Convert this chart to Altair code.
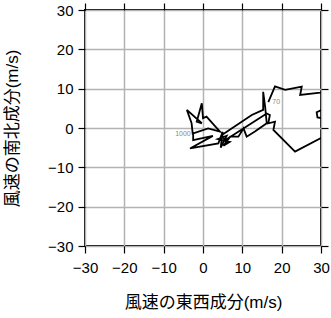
import altair as alt
import pandas as pd

# wind components along the hodograph (1000 hPa -> 70 hPa)
u = [-2.6, -2.9, -4.1, -0.3, -1.6, -0.3, 0.0, 0.9, 4.3, 1.3, -2.5, -2.5, 2.5, -3.3,
     3.9, 5.0, 4.5, 6.0, 3.8, 6.8, 5.2, 6.9, 9.0, 10.3, 11.1, 13.2, 16.2, 15.8, 15.3,
     15.3, 12.4, 4.8, 5.6, 16.2, 17.0, 16.6, 18.3, 17.9, 23.4, 32.0, 32.0, 29.1, 28.9,
     32.0, 32.0, 29.8, 24.7, 25.1, 20.9, 18.3, 16.6]
v = [-1.6, 1.2, 4.6, 1.2, 1.6, 6.3, 2.5, 2.9, -0.9, -0.1, -1.4, -3.1, -2.0, -5.2,
     -3.9, -1.0, -5.0, -2.0, -2.8, -3.5, -4.5, -2.2, -2.2, -0.1, -2.2, -0.9, 1.2, 5.4, 9.2,
     4.6, 3.3, -1.8, -3.1, 3.7, 3.3, 1.2, 1.6, -0.5, -6.0, -1.5, 2.2, 2.7, 4.0,
     5.5, 9.6, 9.0, 8.4, 10.5, 9.7, 10.6, 6.6]
start_label = "1000"
end_label = "70"
ticks = [-30, -20, -10, 0, 10, 20, 30]

df = pd.DataFrame({"i": list(range(len(u))), "u": u, "v": v})
lab = pd.DataFrame({"u": [u[0], u[-1]], "v": [v[0], v[-1]],
                    "t": [start_label, end_label], "side": ["start", "end"]})

FONT = "Liberation Sans, Arial, Noto Sans CJK JP"
xs = alt.Scale(domain=[-30, 30], nice=False, zero=False)
ys = alt.Scale(domain=[-30, 30], nice=False, zero=False)

common = dict(values=ticks, tickColor="black", tickSize=7, tickWidth=1.2, domain=False,
              labelFont=FONT, labelFontSize=15, labelColor="black", labelFlush=False,
              titleFont=FONT, titleFontSize=17, titleFontWeight="normal", titleColor="black",
              grid=True, gridColor="#b3b3b3", gridWidth=1.5)

line = alt.Chart(df).mark_line(color="black", strokeWidth=1.8, clip=True).encode(
    x=alt.X("u:Q", scale=xs, axis=alt.Axis(
        title="風速の東西成分(m/s)", labelPadding=7,
        titleX=118, titleY=56, titleBaseline="middle", titleAlign="center", **common)),
    y=alt.Y("v:Q", scale=ys, axis=alt.Axis(
        title="風速の南北成分(m/s)", labelPadding=5,
        titleX=-73, titleY=118, titleAngle=270, titleBaseline="middle",
        titleAlign="center", **common)),
    order="i:Q",
)

noax = dict(values=ticks, tickColor="black", tickSize=7, tickWidth=1.2, domain=False,
            labels=False, title=None, grid=False)

txt_start = alt.Chart(lab).transform_filter(alt.datum.side == "start").mark_text(
    align="right", baseline="middle", dx=-2, fontSize=7, color="#888888", font=FONT
).encode(
    x=alt.X("u:Q", scale=xs, axis=alt.Axis(orient="top", **noax)),
    y=alt.Y("v:Q", scale=ys, axis=alt.Axis(orient="right", **noax)),
    text="t:N",
)
txt_end = alt.Chart(lab).transform_filter(alt.datum.side == "end").mark_text(
    align="left", baseline="middle", dx=4, fontSize=7, color="#888888", font=FONT
).encode(
    x=alt.X("u:Q", scale=xs, axis=None),
    y=alt.Y("v:Q", scale=ys, axis=None),
    text="t:N",
)

chart = alt.layer(line, txt_start, txt_end).resolve_axis(
    x="independent", y="independent"
).properties(
    width=236, height=236,
    autosize=alt.AutoSizeParams(type="none"),
    padding={"left": 85, "top": 10, "right": 10, "bottom": 72},
).configure_view(stroke="black", strokeWidth=2)

chart.save("out.html", embed_options={"renderer": "svg", "actions": False})
